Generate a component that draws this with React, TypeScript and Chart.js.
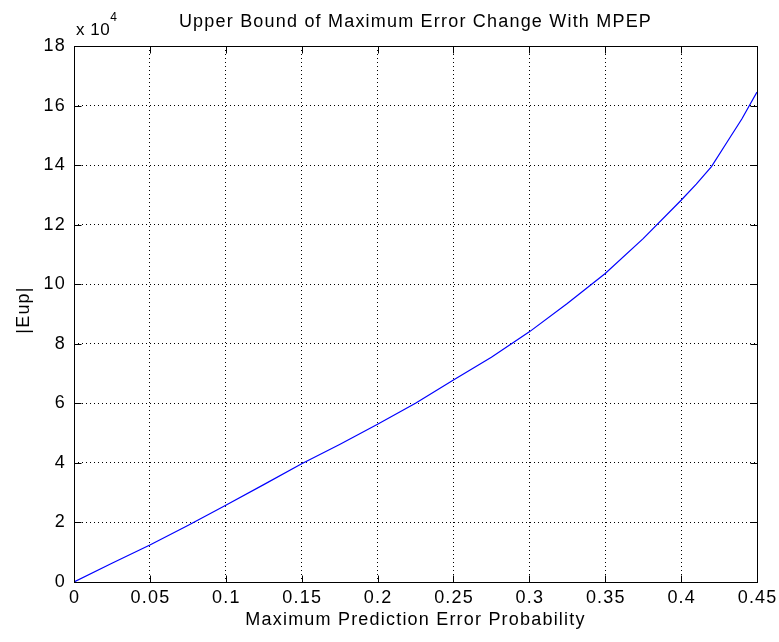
import React, { useEffect, useRef } from "react";
import { Chart, registerables } from "chart.js";

Chart.register(...registerables);

const xValues = [0, 0.025, 0.05, 0.075, 0.1, 0.125, 0.15, 0.175, 0.2, 0.225, 0.25, 0.275, 0.3, 0.325, 0.35, 0.375, 0.4, 0.41, 0.42, 0.43, 0.44, 0.45];
const yValues = [0, 6300, 12400, 19000, 25800, 32700, 39700, 46200, 53000, 60000, 67800, 75500, 84000, 93500, 103600, 115300, 128200, 133600, 139500, 147500, 155500, 164500];
const xTicks = [0, 0.05, 0.1, 0.15, 0.2, 0.25, 0.3, 0.35, 0.4, 0.45];
const yTicks = [0, 2, 4, 6, 8, 10, 12, 14, 16, 18];
const yScaleFactor = 10000;

const titleText = "Upper Bound of Maximum Error Change With MPEP";
const xLabel = "Maximum Prediction Error Probability";
const yLabel = "|Eup|";

const FONT = '"Liberation Sans", Arial, sans-serif';
const FONT_SIZE = 18;
const SPACING = "1.2px";

const fmtX = (v: number) => String(Number(v.toFixed(2)));

const matlabPlugin = {
  id: "matlabFrame",
  afterDatasetsDraw(chart: any) {
    const { ctx, chartArea, scales } = chart;
    const { left, right, top, bottom } = chartArea;
    const L = Math.round(left) + 0.5;
    const R = Math.round(right) + 0.5;
    const T = Math.round(top) + 0.5;
    const B = Math.round(bottom) + 0.5;
    ctx.save();
    ctx.strokeStyle = "#000";
    ctx.lineWidth = 1;
    ctx.setLineDash([]);
    ctx.strokeRect(L, T, R - L, B - T);
    const tl = 7;
    ctx.beginPath();
    xTicks.forEach((v) => {
      const px = Math.round(scales.x.getPixelForValue(v)) + 0.5;
      ctx.moveTo(px, B);
      ctx.lineTo(px, B - tl);
      ctx.moveTo(px, T);
      ctx.lineTo(px, T + tl);
    });
    yTicks.forEach((v) => {
      const py = Math.round(scales.y.getPixelForValue(v * yScaleFactor)) + 0.5;
      ctx.moveTo(L, py);
      ctx.lineTo(L + tl, py);
      ctx.moveTo(R, py);
      ctx.lineTo(R - tl, py);
    });
    ctx.stroke();

    ctx.fillStyle = "#000";
    (ctx as any).letterSpacing = SPACING;
    ctx.font = `${FONT_SIZE}px ${FONT}`;

    // tick labels
    ctx.textAlign = "center";
    ctx.textBaseline = "middle";
    xTicks.forEach((v) => {
      const px = scales.x.getPixelForValue(v);
      ctx.fillText(fmtX(v), px + 0.6, 598);
    });
    ctx.textAlign = "right";
    yTicks.forEach((v) => {
      const py = scales.y.getPixelForValue(v * yScaleFactor);
      ctx.fillText(String(v), 66, py);
    });

    // title
    ctx.textAlign = "center";
    ctx.fillText(titleText, (left + right) / 2, 22);
    // x label
    ctx.fillText(xLabel, (left + right) / 2, 620);
    // y label
    ctx.save();
    ctx.translate(24, (top + bottom) / 2 - 4);
    ctx.rotate(-Math.PI / 2);
    ctx.fillText(yLabel, 0, 0);
    ctx.restore();
    // exponent
    ctx.textAlign = "left";
    ctx.textBaseline = "alphabetic";
    (ctx as any).letterSpacing = "0.5px";
    ctx.font = `17px ${FONT}`;
    ctx.fillText("x 10", 76, 35);
    const w = ctx.measureText("x 10").width;
    ctx.font = `12px ${FONT}`;
    ctx.fillText("4", 76 + w, 21);
    (ctx as any).letterSpacing = "0px";
    ctx.restore();
  },
};

export default function App() {
  const canvasRef = useRef<HTMLCanvasElement | null>(null);

  useEffect(() => {
    if (!canvasRef.current) return;
    const chart = new Chart(canvasRef.current, {
      type: "line",
      data: {
        datasets: [
          {
            data: xValues.map((x, i) => ({ x, y: yValues[i] })),
            borderColor: "#0000ff",
            borderWidth: 1.2,
            pointRadius: 0,
            fill: false,
            tension: 0,
          },
        ],
      },
      options: {
        animation: false,
        responsive: true,
        maintainAspectRatio: false,
        layout: { padding: { left: 0, right: 22, top: 46, bottom: 0 } },
        plugins: {
          legend: { display: false },
          tooltip: { enabled: false },
          title: { display: false },
        },
        scales: {
          x: {
            type: "linear",
            min: 0,
            max: 0.45,
            afterBuildTicks: (scale: any) => {
              scale.ticks = xTicks.map((v) => ({ value: v }));
            },
            afterFit: (scale: any) => {
              scale.height = 60;
            },
            grid: {
              color: "#000",
              lineWidth: 1,
              drawTicks: false,
            },
            border: { display: false, dash: [1, 3] },
            ticks: { display: false },
          },
          y: {
            type: "linear",
            min: 0,
            max: 18 * yScaleFactor,
            afterBuildTicks: (scale: any) => {
              scale.ticks = yTicks.map((v) => ({ value: v * yScaleFactor }));
            },
            afterFit: (scale: any) => {
              scale.width = 74;
            },
            grid: {
              color: "#000",
              lineWidth: 1,
              drawTicks: false,
            },
            border: { display: false, dash: [1, 3] },
            ticks: { display: false },
          },
        },
      },
      plugins: [matlabPlugin],
    });
    return () => chart.destroy();
  }, []);

  return (
    <div style={{ position: "fixed", left: 0, top: 0, width: 779, height: 642, background: "#fff" }}>
      <canvas ref={canvasRef} />
    </div>
  );
}
